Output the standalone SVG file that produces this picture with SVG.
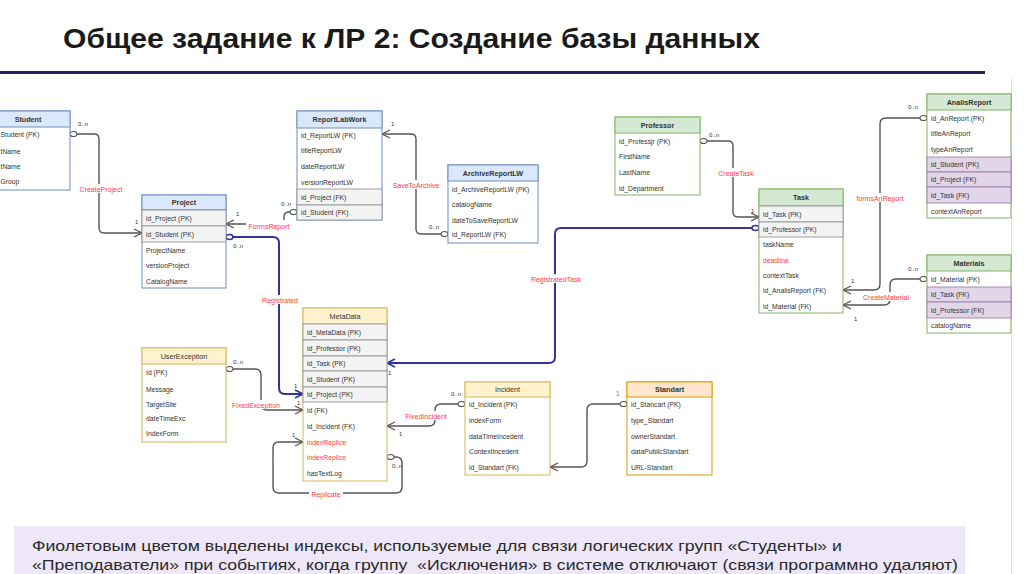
<svg xmlns="http://www.w3.org/2000/svg" width="1024" height="574" viewBox="0 0 1024 574">
<style>
text{font-family:"Liberation Sans",Arial,sans-serif}
.t{font-size:6.8px;fill:#333}
.tr{font-size:6.8px;fill:#ff3b3b}
.h{font-size:7.2px;font-weight:bold;fill:#333;text-anchor:middle}
.m{font-size:6px;fill:#333}
.l{font-size:7px;fill:#ff3b3b;text-anchor:middle}
.bg{fill:#fff}
.body{fill:#fff}
.blue .hd{fill:#dae8fc;stroke:#6c8ebf}
.blue .body{stroke:#6c8ebf}
.green .hd{fill:#d5e8d4;stroke:#82b366}
.green .body{stroke:#82b366}
.yel .hd{fill:#fff2cc;stroke:#d6b656}
.yel .body{stroke:#d6b656}
.org .hd{fill:#ffe6cc;stroke:#d79b00}
.org .body{stroke:#d79b00}
.g{fill:#f3f3f3;stroke:#8a8a8a;stroke-width:0.8}
.p{fill:#e1d5e7;stroke:#9673a6;stroke-width:0.8}
.c{fill:none;stroke:#555;stroke-width:1.4}
.cb{fill:none;stroke:#3333a0;stroke-width:2}
.note{font-family:"Liberation Sans",Arial,sans-serif;font-size:15px;fill:#2a2a2a}
</style>
<defs>
<marker id="arr" markerWidth="10" markerHeight="10" refX="9" refY="5" orient="auto" markerUnits="userSpaceOnUse"><path d="M1,1 L9,5 L1,9" fill="none" stroke="#555" stroke-width="1.2"/></marker>
<marker id="arrB" markerWidth="10" markerHeight="10" refX="9" refY="5" orient="auto" markerUnits="userSpaceOnUse"><path d="M1,1 L9,5 L1,9" fill="none" stroke="#3333a0" stroke-width="1.6"/></marker>
<marker id="circ" markerWidth="10" markerHeight="8" refX="1" refY="4" orient="auto" markerUnits="userSpaceOnUse"><ellipse cx="4.5" cy="4" rx="3.5" ry="2.5" fill="#fff" stroke="#555" stroke-width="1.2"/></marker>
<marker id="circB" markerWidth="10" markerHeight="8" refX="1" refY="4" orient="auto" markerUnits="userSpaceOnUse"><ellipse cx="4.5" cy="4" rx="3.5" ry="2.5" fill="#fff" stroke="#3333a0" stroke-width="1.5"/></marker>
</defs>
<rect width="1024" height="574" fill="#fff"/>

<text x="63" y="47.5" font-family="'Open Sans','Liberation Sans',sans-serif" font-weight="bold" font-size="27" fill="#1a1a1a" textLength="697" lengthAdjust="spacingAndGlyphs">Общее задание к ЛР 2: Создание базы данных</text>
<rect x="0" y="71" width="985" height="3" fill="#1f2a5c"/>
<line x1="1011.5" y1="78" x2="1011.5" y2="574" stroke="#e2e2e2" stroke-width="1"/>

<!-- Connectors -->
<g id="connectors">
<path class="c" d="M70,134 L94,134 Q99,134 99,139 L99,228 Q99,233 104,233 L142,233" marker-start="url(#circ)" marker-end="url(#arr)"/>
<path class="c" d="M297,212 L289,212 Q284,212 284,217 L284,219 Q284,224 279,224 L226,224" marker-start="url(#circ)" marker-end="url(#arr)"/>
<path class="cb" d="M226,237 L273,237 Q279,237 279,243 L279,388 Q279,394 285,394 L303,394" marker-start="url(#circB)" marker-end="url(#arrB)"/>
<path class="c" d="M448,234 L421,234 Q416,234 416,229 L416,139 Q416,134 411,134 L382,134" marker-start="url(#circ)" marker-end="url(#arr)"/>
<path class="c" d="M700,141 L728,141 Q733,141 733,146 L733,212 Q733,217 738,217 L759,217" marker-start="url(#circ)" marker-end="url(#arr)"/>
<path class="cb" d="M759,228 L561,228 Q555,228 555,234 L555,357 Q555,363 549,363 L387,363" marker-start="url(#circB)" marker-end="url(#arrB)"/>
<path class="c" d="M927,118 L886,118 Q880,118 880,124 L880,284 Q880,290 874,290 L843,290" marker-start="url(#circ)" marker-end="url(#arr)"/>
<path class="c" d="M927,279 L896,279 Q890,279 890,285 L890,299 Q890,305 884,305 L843,305" marker-start="url(#circ)" marker-end="url(#arr)"/>
<path class="c" d="M226,369 L255,369 Q261,369 261,375 L261,404 Q261,410 267,410 L303,410" marker-start="url(#circ)" marker-end="url(#arr)"/>
<path class="c" d="M465,404 L441,404 Q435,404 435,410 L435,420 Q435,426 429,426 L387,426" marker-start="url(#circ)" marker-end="url(#arr)"/>
<path class="c" d="M387,457 L396,457 Q402,457 402,463 L402,487 Q402,493 396,493 L279,493 Q273,493 273,487 L273,448 Q273,442 279,442 L303,442" marker-start="url(#circ)" marker-end="url(#arr)"/>
<path class="c" d="M627,404 L593,404 Q587,404 587,410 L587,461 Q587,467 581,467 L550,467" marker-start="url(#circ)" marker-end="url(#arr)"/>

<rect class="bg" x="77" y="184" width="48" height="9"/><text class="l" x="101" y="191.5">CreateProject</text>
<rect class="bg" x="246" y="220" width="47" height="9"/><text class="l" x="269" y="228.5">FormsReport</text>
<rect class="bg" x="261" y="295" width="38" height="9"/><text class="l" x="280" y="302.5">Registrated</text>
<rect class="bg" x="391" y="180" width="50" height="9"/><text class="l" x="416" y="187.5">SaveToArchive</text>
<rect class="bg" x="716" y="168" width="40" height="9"/><text class="l" x="736" y="175.5">CreateTask</text>
<rect class="bg" x="528" y="274" width="56" height="9"/><text class="l" x="556" y="281.5">RegistratedTask</text>
<rect class="bg" x="853" y="193" width="54" height="9"/><text class="l" x="880" y="200.5">formsAnReport</text>
<rect class="bg" x="860" y="292" width="52" height="9"/><text class="l" x="886" y="299.5">CreateMaterial</text>
<rect class="bg" x="230" y="400" width="52" height="9"/><text class="l" x="256" y="407.5">FixedException</text>
<rect class="bg" x="402" y="411" width="48" height="9"/><text class="l" x="426" y="418.5">FixedIncident</text>
<rect class="bg" x="309" y="489" width="34" height="9"/><text class="l" x="326" y="496.5">Replicate</text>

<text class="m" x="78" y="126">0..n</text><text class="m" x="135" y="224">1</text>
<text class="m" x="281" y="206">0..n</text><text class="m" x="236" y="216">1</text>
<text class="m" x="233" y="248">0..n</text><text class="m" x="294" y="388">1</text>
<text class="m" x="429" y="229">0..n</text><text class="m" x="391" y="126">1</text>
<text class="m" x="709" y="137">0..n</text><text class="m" x="751" y="213">1</text>
<text class="m" x="759" y="240">0..n</text><text class="m" x="388" y="375">1</text>
<text class="m" x="908" y="109">0..n</text><text class="m" x="851" y="283">1</text>
<text class="m" x="908" y="271">0..n</text><text class="m" x="854" y="321">1</text>
<text class="m" x="233" y="364">0..n</text><text class="m" x="297" y="405">1</text>
<text class="m" x="451" y="396">0..n</text><text class="m" x="399" y="436">1</text>
<text class="m" x="392" y="468">0..n</text><text class="m" x="292" y="437">1</text>
<text x="616" y="396" font-size="7" fill="#e0522a">1</text>
</g>

<!-- Student -->
<g id="Student" class="blue">
<rect class="body" x="-14" y="111" width="84" height="79"/>
<rect class="hd" x="-14" y="111" width="84" height="16"/>
<text class="h" x="28" y="121.5">Student</text>
<text class="t" x="0.5" y="136.5">Student (PK)</text>
<text class="t" x="0.5" y="153.5">tName</text>
<text class="t" x="0.5" y="168.5">tName</text>
<text class="t" x="0.5" y="183.5">Group</text>
</g>

<!-- Project -->
<g id="Project" class="blue">
<rect class="body" x="142" y="195" width="84" height="93"/>
<rect class="hd" x="142" y="195" width="84" height="15"/>
<text class="h" x="184" y="205">Project</text>
<rect class="g" x="142" y="210" width="84" height="16"/>
<rect class="g" x="142" y="226" width="84" height="16"/>
<text class="t" x="146" y="220.5">id_Project (PK)</text>
<text class="t" x="146" y="236.5">id_Student (PK)</text>
<text class="t" x="146" y="252.5">ProjectName</text>
<text class="t" x="146" y="267.5">versionProject</text>
<text class="t" x="146" y="283.5">CatalogName</text>
</g>

<!-- ReportLabWork -->
<g id="ReportLabWork" class="blue">
<rect class="body" x="297" y="111" width="85" height="109"/>
<rect class="hd" x="297" y="111" width="85" height="17"/>
<text class="h" x="339.5" y="122">ReportLabWork</text>
<text class="t" x="301" y="137.5">id_ReportLW (PK)</text>
<text class="t" x="301" y="152.5">titleReportLW</text>
<text class="t" x="301" y="168.5">dateReportLW</text>
<text class="t" x="301" y="184.5">versionReportLW</text>
<rect class="g" x="297" y="189" width="85" height="16"/>
<rect class="g" x="297" y="205" width="85" height="15"/>
<text class="t" x="301" y="199.5">id_Project (FK)</text>
<text class="t" x="301" y="214.5">id_Student (FK)</text>
</g>

<!-- ArchiveReportLW -->
<g id="ArchiveReportLW" class="blue">
<rect class="body" x="448" y="165" width="90" height="78"/>
<rect class="hd" x="448" y="165" width="90" height="16"/>
<text class="h" x="493" y="175.5">ArchiveReportLW</text>
<text class="t" x="452" y="191.5">id_ArchiveReportLW (PK)</text>
<text class="t" x="452" y="206.5">catalogName</text>
<text class="t" x="452" y="222.5">dateToSaveReportLW</text>
<text class="t" x="452" y="236.5">id_ReportLW (FK)</text>
</g>

<!-- Professor -->
<g id="Professor" class="green">
<rect class="body" x="615" y="117" width="85" height="78"/>
<rect class="hd" x="615" y="117" width="85" height="16"/>
<text class="h" x="657.5" y="127.5">Professor</text>
<text class="t" x="619" y="143.5">id_Professjr (PK)</text>
<text class="t" x="619" y="158.5">FirstName</text>
<text class="t" x="619" y="174.5">LastName</text>
<text class="t" x="619" y="190.5">id_Department</text>
</g>

<!-- Task -->
<g id="Task" class="green">
<rect class="body" x="759" y="189" width="84" height="124"/>
<rect class="hd" x="759" y="189" width="84" height="17"/>
<text class="h" x="801" y="200">Task</text>
<rect class="g" x="759" y="206" width="84" height="16"/>
<rect class="g" x="759" y="222" width="84" height="15"/>
<text class="t" x="763" y="216.5">id_Task (PK)</text>
<text class="t" x="763" y="232">id_Professor (PK)</text>
<text class="t" x="763" y="246.5">taskName</text>
<text class="tr" x="763" y="262.5">deadline</text>
<text class="t" x="763" y="277.5">contextTask</text>
<text class="t" x="763" y="292.5">id_AnalisReport (FK)</text>
<text class="t" x="763" y="308.5">id_Material (FK)</text>
</g>

<!-- AnalisReport -->
<g id="AnalisReport" class="green">
<rect class="body" x="927" y="94" width="84" height="124"/>
<rect class="hd" x="927" y="94" width="84" height="16"/>
<text class="h" x="969" y="104.5">AnalisReport</text>
<text class="t" x="931" y="120.5">id_AnReport (PK)</text>
<text class="t" x="931" y="135.5">titleAnReport</text>
<text class="t" x="931" y="151.5">typeAnReport</text>
<rect class="p" x="927" y="157" width="84" height="15"/>
<rect class="p" x="927" y="172" width="84" height="15"/>
<rect class="p" x="927" y="187" width="84" height="16"/>
<text class="t" x="931" y="167">id_Student (PK)</text>
<text class="t" x="931" y="182">id_Project (FK)</text>
<text class="t" x="931" y="197.5">id_Task (FK)</text>
<text class="t" x="931" y="213.5">contextAnReport</text>
</g>

<!-- Materials -->
<g id="Materials" class="green">
<rect class="body" x="927" y="255" width="84" height="78"/>
<rect class="hd" x="927" y="255" width="84" height="16"/>
<text class="h" x="969" y="265.5">Materials</text>
<text class="t" x="931" y="281.5">id_Material (PK)</text>
<rect class="p" x="927" y="287" width="84" height="15"/>
<rect class="p" x="927" y="302" width="84" height="16"/>
<text class="t" x="931" y="297">id_Task (FK)</text>
<text class="t" x="931" y="312.5">id_Professor (FK)</text>
<text class="t" x="931" y="327.5">catalogName</text>
</g>

<!-- MetaData -->
<g id="MetaData" class="yel">
<rect class="body" x="303" y="308" width="84" height="173"/>
<rect class="hd" x="303" y="308" width="84" height="16"/>
<text class="h" x="345" y="318.5" style="font-weight:normal">MetaData</text>
<rect class="g" x="303" y="324" width="84" height="16"/>
<rect class="g" x="303" y="340" width="84" height="16"/>
<rect class="g" x="303" y="356" width="84" height="15"/>
<rect class="g" x="303" y="371" width="84" height="16"/>
<rect class="g" x="303" y="387" width="84" height="15"/>
<text class="t" x="307" y="334.5">id_MetaData (PK)</text>
<text class="t" x="307" y="350.5">id_Professor (PK)</text>
<text class="t" x="307" y="366">id_Task (PK)</text>
<text class="t" x="307" y="381.5">id_Student (PK)</text>
<text class="t" x="307" y="397">id_Project (PK)</text>
<text class="t" x="307" y="412.5">id (FK)</text>
<text class="t" x="307" y="428.5">id_Incident (FK)</text>
<text class="tr" x="307" y="444.5">indexReplice</text>
<text class="tr" x="307" y="459.5">indexReplice</text>
<text class="t" x="307" y="475.5">hasTextLog</text>
</g>

<!-- UserException -->
<g id="UserException" class="yel">
<rect class="body" x="142" y="348" width="84" height="94"/>
<rect class="hd" x="142" y="348" width="84" height="16"/>
<text class="h" x="184" y="358.5" style="font-weight:normal">UserException</text>
<text class="t" x="146" y="374.5">Id (PK)</text>
<text class="t" x="146" y="391.5">Message</text>
<text class="t" x="146" y="406.5">TargetSite</text>
<text class="t" x="146" y="420.5">dateTimeExc</text>
<text class="t" x="146" y="435.5">IndexForm</text>
</g>

<!-- Incident -->
<g id="Incident" class="yel">
<rect class="body" x="465" y="382" width="85" height="93"/>
<rect class="hd" x="465" y="382" width="85" height="15"/>
<text class="h" x="507.5" y="392" style="font-weight:normal">Incident</text>
<text class="t" x="469" y="406.5">id_Incident (PK)</text>
<text class="t" x="469" y="422.5">indexForm</text>
<text class="t" x="469" y="438.5">dataTimeIncedent</text>
<text class="t" x="469" y="453.5">ContextIncedent</text>
<text class="t" x="469" y="469.5">id_Standart (FK)</text>
</g>

<!-- Standart -->
<g id="Standart" class="org">
<rect class="body" x="627" y="382" width="85" height="93"/>
<rect class="hd" x="627" y="382" width="85" height="15"/>
<text class="h" x="669.5" y="392">Standart</text>
<text class="t" x="631" y="406.5">id_Stancart (PK)</text>
<text class="t" x="631" y="422.5">type_Standart</text>
<text class="t" x="631" y="438.5">ownerStandart</text>
<text class="t" x="631" y="453.5">dataPublicStandart</text>
<text class="t" x="631" y="469.5">URL-Standart</text>
</g>

<!-- Note -->
<g id="note">
<rect x="14" y="526" width="951" height="48" fill="#ede7f8"/>
<text class="note" x="32" y="550.5" textLength="810" lengthAdjust="spacingAndGlyphs">Фиолетовым цветом выделены индексы, используемые для связи логических групп «Студенты» и</text>
<text class="note" x="32" y="569.5" textLength="926" lengthAdjust="spacingAndGlyphs" xml:space="preserve">«Преподаватели» при событиях, когда группу  «Исключения» в системе отключают (связи программно удаляют)</text>
</g>
</svg>
